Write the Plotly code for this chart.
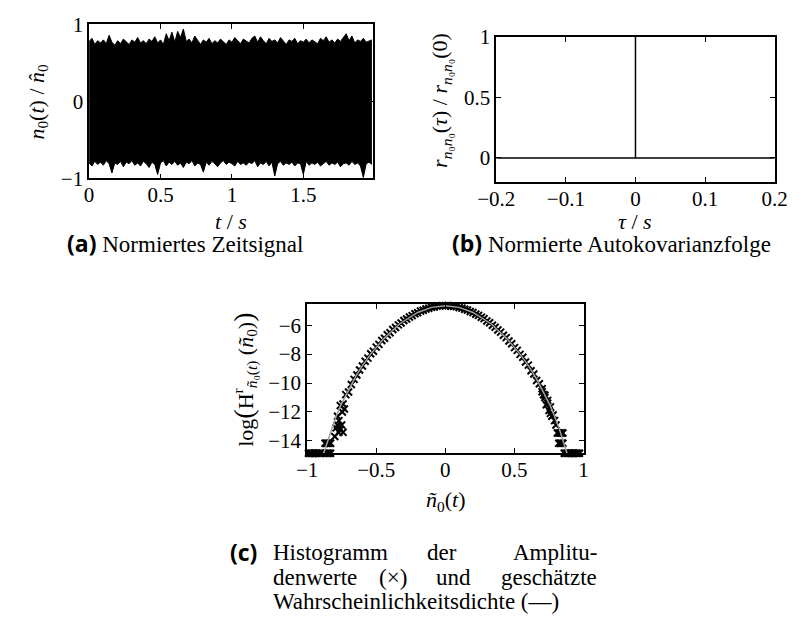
import plotly.graph_objects as go

W, H = 805, 618

# ---------------- (a) normalised time signal: envelope ----------------
t_step = 0.02
sig_upper = [0.78, 0.82, 0.74, 0.79, 0.76, 0.80, 0.75, 0.86, 0.77, 0.73,
             0.79, 0.75, 0.81, 0.78, 0.74, 0.80, 0.77, 0.83, 0.76, 0.79,
             0.75, 0.81, 0.78, 0.84, 0.76, 0.80, 0.74, 0.88, 0.79, 0.90,
             0.77, 0.91, 0.83, 0.94, 0.78, 0.81, 0.76, 0.85, 0.79, 0.74,
             0.80, 0.77, 0.82, 0.75, 0.79, 0.76, 0.81, 0.78, 0.74, 0.80,
             0.77, 0.83, 0.79, 0.75, 0.81, 0.78, 0.76, 0.82, 0.85, 0.77,
             0.84, 0.79, 0.75, 0.82, 0.78, 0.80, 0.76, 0.83, 0.79, 0.74,
             0.80, 0.78, 0.82, 0.75, 0.79, 0.77, 0.81, 0.76, 0.80, 0.78,
             0.75, 0.82, 0.79, 0.84, 0.77, 0.80, 0.76, 0.81, 0.78, 0.83,
             0.88, 0.79, 0.85, 0.76, 0.80, 0.78, 0.82, 0.77, 0.79, 0.80]
sig_lower = [-0.80, -0.84, -0.78, -0.82, -0.79, -0.83, -0.77, -0.81, -0.93, -0.80,
             -0.82, -0.78, -0.85, -0.79, -0.81, -0.77, -0.83, -0.80, -0.84, -0.78,
             -0.81, -0.86, -0.79, -0.82, -0.95, -0.80, -0.77, -0.84, -0.79, -0.82,
             -0.78, -0.83, -0.80, -0.86, -0.79, -0.81, -0.77, -0.84, -0.80, -0.82,
             -0.92, -0.79, -0.83, -0.78, -0.81, -0.85, -0.80, -0.77, -0.82, -0.79,
             -0.81, -0.84, -0.78, -0.82, -0.80, -0.83, -0.79, -0.81, -0.77, -0.85,
             -0.80, -0.82, -0.78, -0.84, -0.79, -0.97, -0.81, -0.78, -0.83, -0.80,
             -0.82, -0.79, -0.84, -0.80, -0.81, -0.95, -0.78, -0.83, -0.80, -0.82,
             -0.79, -0.84, -0.81, -0.78, -0.83, -0.80, -0.82, -0.79, -0.85, -0.81,
             -0.80, -0.83, -0.78, -0.82, -0.80, -0.84, -0.99, -0.81, -0.79, -0.82]
t_axis = [i * t_step for i in range(len(sig_upper))]

# ---------------- (b) normalised autocovariance ----------------
tau = [-0.2, 0.0, 0.0, 0.0, 0.2]
r_norm = [0.0, 0.0, 1.0, 0.0, 0.0]

# ---------------- (c) histogram (x markers) and estimated density (line) ----------------
hist_x = [-0.76, -0.74, -0.72, -0.70, -0.68, -0.66, -0.64, -0.62, -0.60, -0.58,
          -0.56, -0.54, -0.52, -0.50, -0.48, -0.46, -0.44, -0.42, -0.40, -0.38,
          -0.36, -0.34, -0.32, -0.30, -0.28, -0.26, -0.24, -0.22, -0.20, -0.18,
          -0.16, -0.14, -0.12, -0.10, -0.08, -0.06, -0.04, -0.02,
          0.00, 0.02, 0.04, 0.06, 0.08, 0.10, 0.12, 0.14, 0.16, 0.18,
          0.20, 0.22, 0.24, 0.26, 0.28, 0.30, 0.32, 0.34, 0.36, 0.38,
          0.40, 0.42, 0.44, 0.46, 0.48, 0.50, 0.52, 0.54, 0.56, 0.58,
          0.60, 0.62, 0.64, 0.66, 0.68, 0.70, 0.72, 0.74, 0.76,
          # left tail scatter
          -0.78, -0.78, -0.77, -0.76, -0.77, -0.75, -0.74, -0.745, -0.73, -0.80, -0.79,
          -0.87, -0.86, -0.85, -0.84, -0.83,
          -0.99, -0.98, -0.97, -0.96, -0.95, -0.94, -0.93, -0.92, -0.91, -0.90,
          -0.86, -0.85, -0.84, -0.83,
          # right tail scatter
          0.70, 0.71, 0.72, 0.73, 0.74, 0.75, 0.76, 0.77, 0.78, 0.79, 0.80,
          0.81, 0.82, 0.83, 0.84, 0.85,
          0.82, 0.83, 0.84, 0.85,
          0.86, 0.87, 0.88, 0.89, 0.90, 0.91, 0.92, 0.93, 0.94, 0.95, 0.96, 0.97]
hist_y = [-11.55, -11.45, -10.80, -10.62, -10.10, -9.75, -9.45, -9.10, -8.82, -8.50,
          -8.28, -7.98, -7.80, -7.52, -7.33, -7.06, -6.90, -6.66, -6.52, -6.30,
          -6.16, -5.98, -5.85, -5.68, -5.57, -5.43, -5.34, -5.21, -5.14, -5.02,
          -4.97, -4.88, -4.83, -4.76, -4.74, -4.68, -4.67, -4.65,
          -4.66, -4.64, -4.69, -4.70, -4.72, -4.79, -4.82, -4.90, -4.95, -5.05,
          -5.12, -5.24, -5.32, -5.45, -5.55, -5.71, -5.83, -6.01, -6.14, -6.33,
          -6.48, -6.70, -6.86, -7.10, -7.28, -7.55, -7.74, -8.02, -8.22, -8.55,
          -8.76, -9.15, -9.38, -9.82, -10.05, -10.60, -10.85, -11.40, -11.65,
          -12.3, -12.9, -13.4, -13.2, -12.6, -12.9, -13.4, -12.0, -11.8, -13.7, -13.1,
          -14.16, -14.16, -14.16, -14.16, -14.16,
          -14.85, -14.85, -14.85, -14.85, -14.85, -14.85, -14.85, -14.85, -14.85, -14.85,
          -14.85, -14.85, -14.85, -14.85,
          -10.4, -10.8, -11.0, -11.5, -11.2, -11.9, -12.1, -12.3, -12.2, -12.6, -12.9,
          -13.46, -13.46, -13.46, -13.46, -13.46,
          -14.16, -14.16, -14.16, -14.16,
          -14.85, -14.85, -14.85, -14.85, -14.85, -14.85, -14.85, -14.85, -14.85, -14.85,
          -14.85, -14.85]
dens_x = [-0.88, -0.85, -0.82, -0.79, -0.76, -0.72, -0.68, -0.64, -0.60, -0.54, -0.45,
          -0.33, -0.20, -0.10, 0.00, 0.10, 0.20, 0.33, 0.45, 0.54, 0.60, 0.64, 0.68,
          0.72, 0.76, 0.79, 0.82, 0.85, 0.88]
dens_y = [-14.85, -13.95, -13.05, -12.3, -11.6, -10.85, -10.1, -9.4, -8.8, -8.0, -6.98,
          -5.9, -5.12, -4.77, -4.65, -4.77, -5.12, -5.9, -6.98, -8.0, -8.8, -9.4, -10.1,
          -10.85, -11.6, -12.3, -13.05, -13.95, -14.85]

SERIF = "Liberation Serif, Times New Roman, serif"
SANS = "Open Sans"
FS_TICK = 21
FS_TITLE = 22
FS_CAP = 23

fig = go.Figure()

fig.add_trace(go.Scatter(x=t_axis, y=sig_lower, mode="lines",
                         line=dict(color="black", width=1), xaxis="x", yaxis="y",
                         showlegend=False, hoverinfo="skip"))
fig.add_trace(go.Scatter(x=t_axis, y=sig_upper, mode="lines", fill="tonexty",
                         fillcolor="black", line=dict(color="black", width=1),
                         xaxis="x", yaxis="y", showlegend=False, hoverinfo="skip"))

fig.add_trace(go.Scatter(x=tau, y=r_norm, mode="lines",
                         line=dict(color="black", width=1.5), xaxis="x2", yaxis="y2",
                         showlegend=False))

fig.add_trace(go.Scatter(x=hist_x, y=hist_y, mode="markers",
                         marker=dict(symbol="x-thin", size=7, color="black",
                                     line=dict(color="black", width=2)),
                         xaxis="x3", yaxis="y3", showlegend=False, cliponaxis=False))
fig.add_trace(go.Scatter(x=dens_x, y=dens_y, mode="lines",
                         line=dict(color="#a0a0a0", width=1.5),
                         xaxis="x3", yaxis="y3", showlegend=False))


def px_dom(a, b):
    return [a / W, b / W]


def py_dom(top, bottom):
    return [1 - bottom / H, 1 - top / H]


common = dict(showline=True, linecolor="black", linewidth=1.5, mirror="ticks",
              ticks="inside", ticklen=5, tickwidth=1, tickcolor="black",
              showgrid=False, zeroline=False,
              tickfont=dict(family=SERIF, size=FS_TICK, color="black"))
xcommon = dict(common, ticklabelstandoff=-3)

fig.update_layout(
    width=W, height=H, margin=dict(l=0, r=0, t=0, b=0),
    paper_bgcolor="white", plot_bgcolor="white", showlegend=False,
    xaxis=dict(domain=px_dom(73, 369), anchor="y", range=[0, 1.99],
               tickvals=[0, 0.5, 1, 1.5], ticktext=["0", "0.5", "1", "1.5"], **xcommon),
    yaxis=dict(domain=py_dom(13, 173), anchor="x", range=[-1, 1],
               tickvals=[-1, 0, 1], ticktext=["\u22121", "0", "1"], **common),
    xaxis2=dict(domain=px_dom(497, 787), anchor="y2", range=[-0.2, 0.2],
                tickvals=[-0.2, -0.1, 0, 0.1, 0.2],
                ticktext=["\u22120.2", "\u22120.1", "0", "0.1", "0.2"], **xcommon),
    yaxis2=dict(domain=py_dom(26, 177), anchor="x2", range=[-0.2, 1],
                tickvals=[0, 0.5, 1], ticktext=["0", "0.5", "1"], **common),
    xaxis3=dict(domain=px_dom(300, 588), anchor="y3", range=[-1, 1],
                tickvals=[-1, -0.5, 0, 0.5, 1],
                ticktext=["\u22121", "\u22120.5", "0", "0.5", "1"], **xcommon),
    yaxis3=dict(domain=py_dom(304, 459), anchor="x3", range=[-14.85, -4.55],
                tickvals=[-14, -12, -10, -8, -6],
                ticktext=["\u221214", "\u221212", "\u221210", "\u22128", "\u22126"], **common),
)

anns = []


def ann(text, px, py, size=FS_TITLE, xanchor="center", angle=0, family=SERIF):
    anns.append(dict(text=text, x=px / W, y=1 - py / H, xref="paper", yref="paper",
                     xanchor=xanchor, yanchor="middle", showarrow=False,
                     textangle=angle, font=dict(family=family, size=size, color="black")))


lab = lambda s: '<span style="font-family:%s"><b>%s</b></span>' % (SANS, s)

# axis titles
ann("<i>t</i> / <i>s</i>", 221, 218)
ann("<i>n</i><sub>0</sub>(<i>t</i>) / <i>n\u0302</i><sub>0</sub>", 20, 93, angle=-90)
ann("<i>\u03c4</i> / <i>s</i>", 642, 218)
ann("<i>r</i><sub><i>n</i>\u2080<i>n</i>\u2080</sub>(<i>\u03c4</i>) / "
    "<i>r</i><sub><i>n</i>\u2080<i>n</i>\u2080</sub>(0)", 440, 92, angle=-90)
ann("<i>\u00f1</i><sub>0</sub>(<i>t</i>)", 444, 509)
ann('log<span style="font-size:28px">(</span>H<sup>r</sup><sub><i>\u00f1</i>\u2080(<i>t</i>)</sub>'
    ' (<i>\u00f1</i><sub>0</sub>)<span style="font-size:28px">)</span>', 235, 383, angle=-90)

# captions
ann(lab("(a)") + " Normiertes Zeitsignal", 173, 240, size=FS_CAP)
ann(lab("(b)") + " Normierte Autokovarianzfolge", 617, 240, size=FS_CAP)
ann(lab("(c)"), 218, 562, size=FS_CAP, xanchor="left")
ann("Histogramm", 262, 562, size=FS_CAP, xanchor="left")
ann("der", 441, 562, size=FS_CAP)
ann("Amplitu-", 604, 562, size=FS_CAP, xanchor="right")
ann("denwerte", 262, 588, size=FS_CAP, xanchor="left")
ann("(\u00d7)", 390, 588, size=FS_CAP)
ann("und", 453, 588, size=FS_CAP)
ann("geschätzte", 604, 588, size=FS_CAP, xanchor="right")
ann("Wahrscheinlichkeitsdichte (\u2014)", 262, 613, size=FS_CAP, xanchor="left")

fig.update_layout(annotations=anns)

fig.write_html("out.html", config={"displayModeBar": False},
               post_script="document.body.style.margin='0';document.body.style.overflow='hidden';")
